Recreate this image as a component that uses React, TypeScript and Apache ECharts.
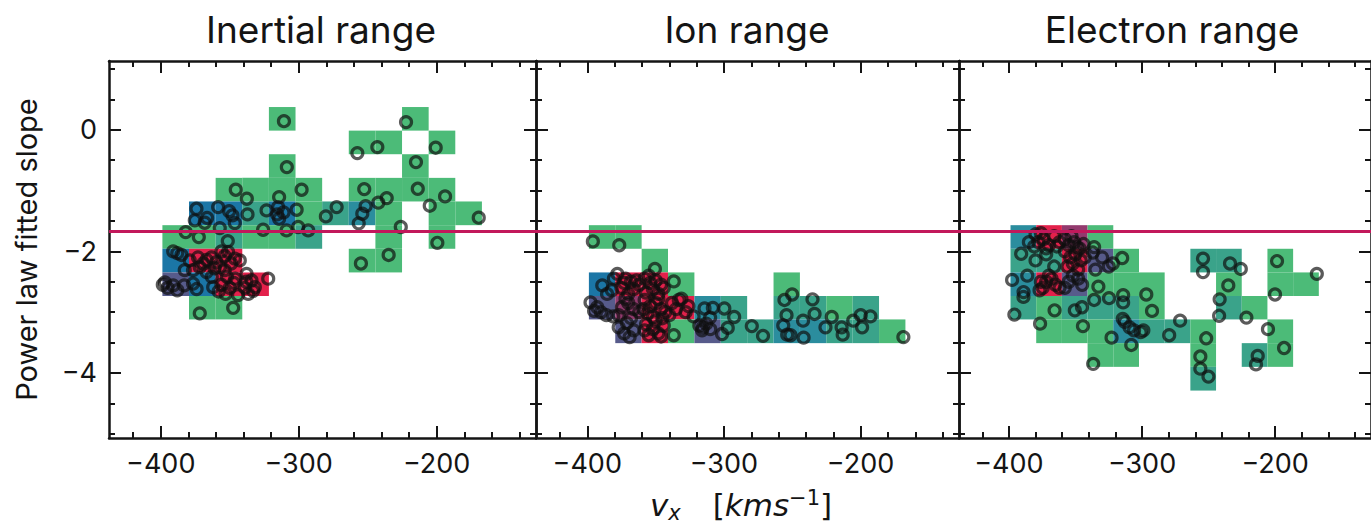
import React, { useEffect, useRef } from 'react';
import * as echarts from 'echarts';

// ---------- data ----------
const panelTitles = ['Inertial range', 'Ion range', 'Electron range'];

// axis limits
const X_MIN = -437.5;
const X_MAX = -128;
const Y_MIN = -5.07;
const Y_MAX = 1.13;

const xMajorTicks = [-400, -300, -200];
const xMinorTicks = [-420, -380, -360, -340, -320, -280, -260, -240, -220, -180, -160, -140];
const yMajorTicks = [-4, -2, 0];
const yMinorTicks = [-5, -4.5, -3.5, -3, -2.5, -1.5, -1, -0.5, 0.5, 1];

const kolmogorovSlope = -5 / 3;

// 2-D histogram bin edges
const xEdges = [-398.8, -379.5, -360.2, -340.9, -321.6, -302.3, -283.0, -263.7, -244.4, -225.1, -205.8, -186.5, -167.2];
const yEdges = [-4.29, -3.9, -3.51, -3.12, -2.735, -2.347, -1.958, -1.57, -1.18, -0.792, -0.403, -0.015, 0.373];

// histogram cells: [column, row, count]
const inertialCells = [
  [4, 11, 1], [9, 11, 1],
  [7, 10, 1], [8, 10, 1], [10, 10, 1],
  [4, 9, 1], [9, 9, 1],
  [2, 8, 1], [3, 8, 1], [4, 8, 1], [5, 8, 1], [7, 8, 1], [8, 8, 1], [9, 8, 1], [10, 8, 1],
  [1, 7, 4], [2, 7, 4], [3, 7, 2], [4, 7, 4], [5, 7, 1], [6, 7, 2], [7, 7, 3], [8, 7, 1], [10, 7, 1], [11, 7, 1],
  [0, 6, 1], [1, 6, 1], [2, 6, 2], [3, 6, 1], [4, 6, 1], [5, 6, 2], [8, 6, 1], [10, 6, 1],
  [0, 5, 4], [1, 5, 9], [2, 5, 9], [7, 5, 1], [8, 5, 1],
  [0, 4, 6], [1, 4, 4], [2, 4, 8], [3, 4, 8],
  [1, 3, 1], [2, 3, 1],
];
const ionCells = [
  [0, 6, 1], [1, 6, 1],
  [2, 5, 1],
  [0, 4, 4], [1, 4, 9], [2, 4, 9], [3, 4, 1], [7, 4, 1],
  [0, 3, 6], [1, 3, 7], [2, 3, 10], [3, 3, 8], [4, 3, 3], [5, 3, 2], [7, 3, 2], [8, 3, 2], [9, 3, 1], [10, 3, 2],
  [1, 2, 5], [2, 2, 8], [3, 2, 1], [4, 2, 5], [5, 2, 2], [6, 2, 2], [7, 2, 3], [8, 2, 3], [9, 2, 2], [10, 2, 2], [11, 2, 1],
];
const electronCells = [
  [0, 6, 3], [1, 6, 8], [2, 6, 7], [3, 6, 1],
  [0, 5, 2], [1, 5, 2], [2, 5, 8], [3, 5, 5], [4, 5, 1], [7, 5, 2], [8, 5, 2], [10, 5, 1],
  [0, 4, 3], [1, 4, 8], [2, 4, 5], [3, 4, 1], [4, 4, 1], [5, 4, 1], [8, 4, 1], [10, 4, 1], [11, 4, 1],
  [0, 3, 2], [1, 3, 1], [2, 3, 2], [3, 3, 2], [4, 3, 2], [5, 3, 1], [8, 3, 2], [9, 3, 1],
  [1, 2, 1], [2, 2, 1], [3, 2, 1], [4, 2, 3], [5, 2, 2], [6, 2, 2], [7, 2, 1], [10, 2, 1],
  [3, 1, 1], [4, 1, 1], [7, 1, 1], [9, 1, 2], [10, 1, 1],
  [7, 0, 2],
];

// individual fits: [vx, slope]
const inertialPoints = [
  [-310.7, 0.14], [-222.2, 0.125], [-257.5, -0.385], [-243, -0.286], [-200.7, -0.296], [-308.6, -0.615], [-215, -0.533],
  [-345.6, -0.987], [-337.6, -1.135], [-314.2, -1.108], [-297.9, -0.987], [-252.5, -0.977], [-213.7, -0.971], [-236.2, -1.125], [-193.9, -1.097],
  [-242.3, -1.2], [-205, -1.25], [-169.5, -1.447], [-272.5, -1.273], [-280.3, -1.426], [-251.5, -1.257], [-253.9, -1.382], [-256.5, -1.54],
  [-301.5, -1.316],
  [-314.9, -1.273], [-315.6, -1.393], [-314.2, -1.464], [-311, -1.36],
  [-323.3, -1.327], [-337.1, -1.393],
  [-358.4, -1.273], [-350.4, -1.339], [-348, -1.41], [-346.3, -1.536],
  [-374.1, -1.3], [-375.3, -1.49], [-368.1, -1.53], [-366.4, -1.45],
  [-226, -1.6], [-199.5, -1.86], [-300.4, -1.6], [-293.1, -1.656], [-308.8, -1.656], [-325.8, -1.645], [-357.2, -1.618], [-351.4, -1.832], [-372.4, -1.766], [-381.9, -1.684],
  [-254.9, -2.2], [-234.8, -2.06],
  [-371.7, -3.02], [-347.5, -2.93],
  [-391, -2.0], [-388, -2.03], [-385, -2.06], [-382.6, -2.31],
  [-383, -2.56], [-391, -2.56], [-397, -2.51], [-398.5, -2.55], [-395, -2.6], [-388, -2.64],
  [-363, -2.42], [-362, -2.59], [-376.6, -2.53], [-374, -2.62],
  [-379, -2.15], [-373, -2.1], [-366.8, -2.14], [-363.2, -2.1], [-371.7, -2.26], [-376.6, -2.31], [-366.8, -2.34], [-361, -2.28], [-369, -2.2],
  [-359.6, -2.18], [-353.6, -2.08], [-351.2, -2.01], [-346.3, -2.12], [-342.7, -2.15], [-357.2, -2.26], [-353.6, -2.31], [-349, -2.2], [-356, -2.0],
  [-352, -2.42], [-346, -2.45], [-344, -2.72], [-358, -2.66], [-356, -2.55], [-350, -2.6], [-347, -2.52], [-353, -2.7],
  [-337.8, -2.37], [-334.2, -2.48], [-331.8, -2.59], [-336.6, -2.7], [-322.1, -2.45], [-339, -2.6], [-333, -2.65], [-338, -2.5],
];
const ionPoints = [
  [-395.9, -1.837], [-376.6, -1.9], [-350.5, -2.29], [-336.7, -2.495], [-336.7, -3.38], [-250.1, -2.71],
  [-255.7, -2.8], [-254.2, -3.05],
  [-235.2, -2.79], [-233.7, -3.03],
  [-221.1, -3.08],
  [-199.9, -3.05], [-192.8, -3.07],
  [-198.9, -3.25], [-205.4, -3.14],
  [-213.9, -3.25], [-213.1, -3.37],
  [-242.1, -3.14], [-241.7, -3.42], [-225.7, -3.25],
  [-256.6, -3.22], [-253.7, -3.37], [-251.3, -3.38],
  [-168.7, -3.41],
  [-279.6, -3.23], [-271.4, -3.39],
  [-299.7, -2.94], [-292.5, -3.08],
  [-297.2, -3.26], [-301.4, -3.36],
  [-308.1, -2.93], [-314.2, -2.94], [-310.1, -3.09],
  [-315.4, -3.25], [-316, -3.3], [-313, -3.19], [-318, -3.22], [-310, -3.28],
  [-389, -2.56], [-382, -2.64], [-385.5, -2.7], [-380.5, -2.45],
  [-397.6, -2.84], [-392.7, -2.92], [-390, -3.0], [-386, -3.05], [-381, -3.07], [-395, -2.98],
  [-378, -2.37], [-372, -2.45], [-368, -2.5], [-364, -2.48], [-375, -2.6], [-366, -2.62], [-370, -2.7], [-362, -2.55], [-373, -2.52],
  [-374.6, -2.92], [-370, -2.85], [-366, -2.95], [-362, -3.0], [-377, -3.05], [-368, -3.1], [-372, -2.78],
  [-377, -3.25], [-373, -3.35], [-369, -3.41], [-366, -3.3], [-371, -3.18],
  [-358, -2.45], [-354, -2.52], [-350, -2.48], [-346, -2.55], [-352, -2.62], [-357, -2.68], [-348, -2.7], [-344, -2.6], [-355, -2.4],
  [-358, -2.8], [-354, -2.9], [-350, -2.85], [-346, -2.95], [-343, -3.0], [-356, -3.02], [-352, -3.08], [-348, -2.78], [-359, -2.95], [-345, -3.1],
  [-357, -3.2], [-352, -3.28], [-348, -3.35], [-344, -3.22], [-355, -3.38], [-350, -3.15], [-346, -3.4], [-358, -3.3],
  [-322.2, -3.07], [-331.1, -2.78], [-338, -2.85], [-335, -2.95], [-328, -3.0], [-340, -3.05], [-333, -2.8], [-326, -2.9],
];
const electronPoints = [
  [-254.2, -2.12], [-254.2, -2.34],
  [-233.9, -2.2], [-225.8, -2.29],
  [-198.6, -2.16], [-168.7, -2.37], [-200.1, -2.71], [-235.2, -2.56],
  [-241.7, -2.79], [-242.1, -3.06], [-221.6, -3.09], [-205.4, -3.28], [-193.3, -3.59],
  [-213.1, -3.72], [-214.4, -3.86], [-251.8, -3.43], [-256.2, -3.73], [-256.2, -3.93], [-250.1, -4.06],
  [-271.4, -3.14], [-279.6, -3.38], [-292.5, -2.98], [-296.8, -2.71], [-301, -3.33], [-299, -3.3],
  [-308.1, -3.54], [-314.9, -2.11], [-314.2, -2.72], [-314.2, -2.84], [-314.5, -3.11],
  [-313, -3.16], [-309.4, -3.25], [-306, -3.3],
  [-321.9, -2.2], [-330, -2.1], [-325, -2.25], [-335, -2.3], [-337, -2.02],
  [-336, -1.93], [-332.8, -2.58], [-336, -2.8], [-324.8, -2.77], [-322.9, -3.42], [-336.7, -3.85],
  [-345.1, -2.92], [-350.5, -2.97], [-344.4, -3.23], [-365.7, -2.97], [-376.6, -3.19],
  [-395.9, -3.04], [-389.1, -2.75], [-397.6, -2.47], [-386.2, -2.4], [-389, -2.67],
  [-390.8, -2.04], [-380, -2.15], [-372, -2.05], [-366, -2.25],
  [-385, -1.85], [-381, -1.92], [-380, -1.72],
  [-378, -1.85], [-374, -1.8], [-370, -1.9], [-366, -1.75], [-362, -1.85], [-372, -1.95], [-376, -1.7], [-364, -1.92],
  [-358, -1.8], [-355, -1.9], [-351, -1.85], [-347, -1.95], [-344, -1.88], [-353, -1.75], [-349, -1.93],
  [-358, -2.0], [-354, -2.1], [-350, -2.05], [-346, -2.15], [-352, -2.2], [-356, -2.25], [-343, -2.1], [-348, -2.3],
  [-377, -2.64], [-374.6, -2.6], [-372, -2.5], [-368, -2.45], [-365, -2.55], [-370, -2.4], [-362, -2.6], [-376, -2.5],
  [-355, -2.5], [-352, -2.4], [-348, -2.45], [-358, -2.6], [-345, -2.55],
];

const panelCells = [inertialCells, ionCells, electronCells];
const panelPoints = [inertialPoints, ionPoints, electronPoints];

// ---------- styling ----------
const grids = [
  { left: 109, top: 61, width: 427, height: 377 },
  { left: 536, top: 61, width: 423, height: 377 },
  { left: 959, top: 61, width: 424, height: 377 },
];
const titleCenters = [321, 747, 1172];
const INK = '#141414';
const FONT = 'Inter, "Noto Sans", sans-serif';

const fmt = (v: number) => (v < 0 ? '\u2212' + Math.abs(v) : String(v));

function xAxisDef(g: number, pos: 'bottom' | 'top', major: boolean) {
  return {
    type: 'value',
    gridIndex: g,
    min: X_MIN,
    max: X_MAX,
    position: pos,
    axisLine: { show: major, onZero: false, lineStyle: { color: INK, width: 2.5 } },
    axisTick: {
      show: true,
      inside: true,
      length: major ? 12 : 6,
      customValues: major ? xMajorTicks : xMinorTicks,
      lineStyle: { color: INK, width: 2 },
    },
    axisLabel: {
      show: major && pos === 'bottom',
      customValues: xMajorTicks,
      formatter: fmt,
      fontSize: 27,
      fontFamily: FONT,
      color: INK,
      margin: 12,
    },
    splitLine: { show: false },
  };
}

function yAxisDef(g: number, pos: 'left' | 'right', major: boolean) {
  const withLabel = major && pos === 'left' && g === 0;
  const def: any = {
    type: 'value',
    gridIndex: g,
    min: Y_MIN,
    max: Y_MAX,
    position: pos,
    axisLine: { show: major, onZero: false, lineStyle: { color: INK, width: 2.5 } },
    axisTick: {
      show: true,
      inside: true,
      length: major ? 12 : 6,
      customValues: major ? yMajorTicks : yMinorTicks,
      lineStyle: { color: INK, width: 2 },
    },
    axisLabel: {
      show: withLabel,
      customValues: yMajorTicks,
      formatter: fmt,
      fontSize: 27,
      fontFamily: FONT,
      color: INK,
      margin: 12,
    },
    splitLine: { show: false },
  };
  if (withLabel) {
    def.name = 'Power law fitted slope';
    def.nameLocation = 'middle';
    def.nameRotate = 90;
    def.nameGap = 68;
    def.nameTextStyle = { fontSize: 29, fontFamily: FONT, color: INK };
  }
  return def;
}

export default function App() {
  const ref = useRef<HTMLDivElement>(null);

  useEffect(() => {
    if (!ref.current) return;
    const chart = echarts.init(ref.current, null, { renderer: 'svg' });

    const xAxes: any[] = [];
    const yAxes: any[] = [];
    const series: any[] = [];

    grids.forEach((_, g) => {
      xAxes.push(xAxisDef(g, 'bottom', true), xAxisDef(g, 'bottom', false), xAxisDef(g, 'top', true), xAxisDef(g, 'top', false));
      yAxes.push(yAxisDef(g, 'left', true), yAxisDef(g, 'left', false), yAxisDef(g, 'right', true), yAxisDef(g, 'right', false));

      const cellData = panelCells[g].map(([c, r, n]) => [xEdges[c], xEdges[c + 1], yEdges[r], yEdges[r + 1], n]);
      series.push({
        type: 'custom',
        xAxisIndex: 4 * g,
        yAxisIndex: 4 * g,
        encode: { x: [0, 1], y: [2, 3] },
        data: cellData,
        z: 1,
        renderItem: (params: any, api: any) => {
          const a = api.coord([api.value(0), api.value(3)]);
          const b = api.coord([api.value(1), api.value(2)]);
          return {
            type: 'rect',
            shape: { x: a[0], y: a[1], width: b[0] - a[0], height: b[1] - a[1] },
            style: { fill: api.visual('color') },
          };
        },
      });
      series.push({
        type: 'scatter',
        xAxisIndex: 4 * g,
        yAxisIndex: 4 * g,
        data: panelPoints[g],
        z: 3,
        symbol: 'circle',
        symbolSize: 11,
        itemStyle: { color: 'rgba(0,0,0,0)', borderColor: 'rgba(14,14,14,0.86)', borderWidth: 3.2 },
        markLine: {
          silent: true,
          symbol: ['none', 'none'],
          label: { show: false },
          lineStyle: { color: '#c2185b', width: 3, type: 'solid', opacity: 1 },
          data: [{ yAxis: kolmogorovSlope }],
        },
      });
    });

    const graphics: any[] = panelTitles.map((t, i) => ({
      type: 'text',
      x: titleCenters[i],
      y: 29,
      style: { text: t, fontSize: 37, fontFamily: FONT, fill: INK, textAlign: 'center', textVerticalAlign: 'middle' },
    }));
    graphics.push({
      type: 'text',
      x: 741,
      y: 505,
      style: {
        text: '{m|v}{s|x}{g| }{b|[}{m|kms}{p|\u22121}{b|]}',
        textAlign: 'center',
        textVerticalAlign: 'middle',
        fill: INK,
        rich: {
          m: { fontSize: 31, fontStyle: 'italic', fontFamily: '"DejaVu Sans"', lineHeight: 36, fill: INK },
          s: { fontSize: 21, fontStyle: 'italic', fontFamily: '"DejaVu Sans"', verticalAlign: 'bottom', lineHeight: 23, fill: INK },
          g: { fontSize: 31, fontFamily: '"DejaVu Sans"', width: 32, lineHeight: 36 },
          b: { fontSize: 31, fontFamily: '"DejaVu Sans"', lineHeight: 36, fill: INK },
          p: { fontSize: 21, fontFamily: '"DejaVu Sans"', verticalAlign: 'top', lineHeight: 23, fill: INK },
        },
      },
    });

    chart.setOption({
      animation: false,
      backgroundColor: '#ffffff',
      grid: grids.map((b) => ({ ...b, containLabel: false })),
      xAxis: xAxes,
      yAxis: yAxes,
      visualMap: {
        type: 'piecewise',
        show: false,
        dimension: 4,
        seriesIndex: [0, 2, 4],
        pieces: [
          { value: 1, color: '#4cbb78' },
          { value: 2, color: '#3aa38a' },
          { value: 3, color: '#2b8d9e' },
          { value: 4, color: '#1b76a6' },
          { gte: 5, lte: 6, color: '#575b8b' },
          { value: 7, color: '#933a6e' },
          { gte: 8, color: '#e3214b' },
        ],
      },
      series,
      graphic: graphics,
    });

    return () => chart.dispose();
  }, []);

  return <div ref={ref} style={{ position: 'fixed', left: 0, top: 0, width: 1371, height: 524 }} />;
}
